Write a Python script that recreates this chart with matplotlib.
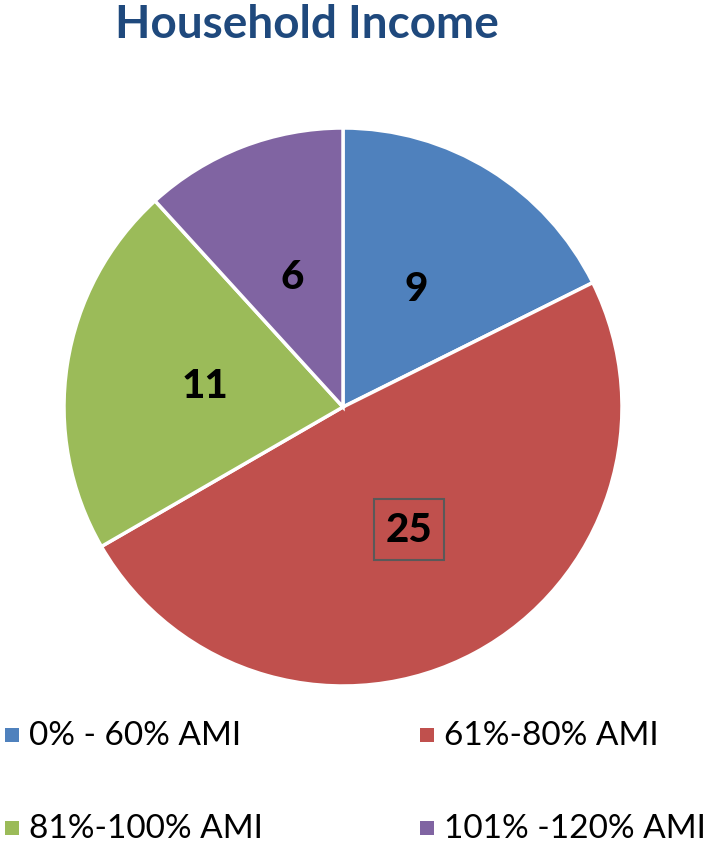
import matplotlib
matplotlib.use('Agg')
import matplotlib.pyplot as plt
from matplotlib.patches import Rectangle

# --- data
categories = ['0% - 60% AMI', '61%-80% AMI', '81%-100% AMI', '101% -120% AMI']
values = [9, 25, 11, 6]
colors = ['#4F81BD', '#C0504D', '#9BBB59', '#8064A2']

W, H = 708, 845
fig = plt.figure(figsize=(W / 100, H / 100), dpi=100)

# pie axes: centre (343, 408) px, radius ~279 px
cx, cy, r = 343, 408, 279
ax = fig.add_axes([(cx - r) / W, (H - cy - r) / H, 2 * r / W, 2 * r / H])
total = sum(values)
wedges, texts, autotexts = ax.pie(
    values, colors=colors, startangle=90, counterclock=False,
    wedgeprops=dict(edgecolor='white', linewidth=2.5),
    autopct=lambda p: f'{round(p * total / 100)}', pctdistance=0.5,
    textprops=dict(fontsize=29, fontweight='black', color='black', family='Lato'))
ax.set_aspect('equal')
ax.set_xlim(-1, 1)
ax.set_ylim(-1, 1)

# the biggest slice label sits in a box
big = values.index(max(values))
autotexts[big].set_bbox(dict(boxstyle='square,pad=0.3', facecolor='none',
                             edgecolor='#595959', linewidth=1.5))

fig.text(307 / W, 1 - 25 / H, 'Household Income', ha='center', va='center',
         fontsize=33, fontweight='bold', color='#1F497D', family='Lato')

# legend, two columns, drawn by hand
col_x = [5, 420]
row_y = [736, 829]
for i, (lab, c) in enumerate(zip(categories, colors)):
    x0 = col_x[i % 2]
    y0 = row_y[i // 2]
    fig.patches.append(Rectangle((x0 / W, 1 - (y0 + 7) / H), 14 / W, 14 / H,
                                 transform=fig.transFigure, facecolor=c,
                                 edgecolor='none'))
    fig.text((x0 + 24) / W, 1 - y0 / H, lab, ha='left', va='center',
             fontsize=24, color='black', family='Lato')

fig.savefig('out.png', dpi=100)
